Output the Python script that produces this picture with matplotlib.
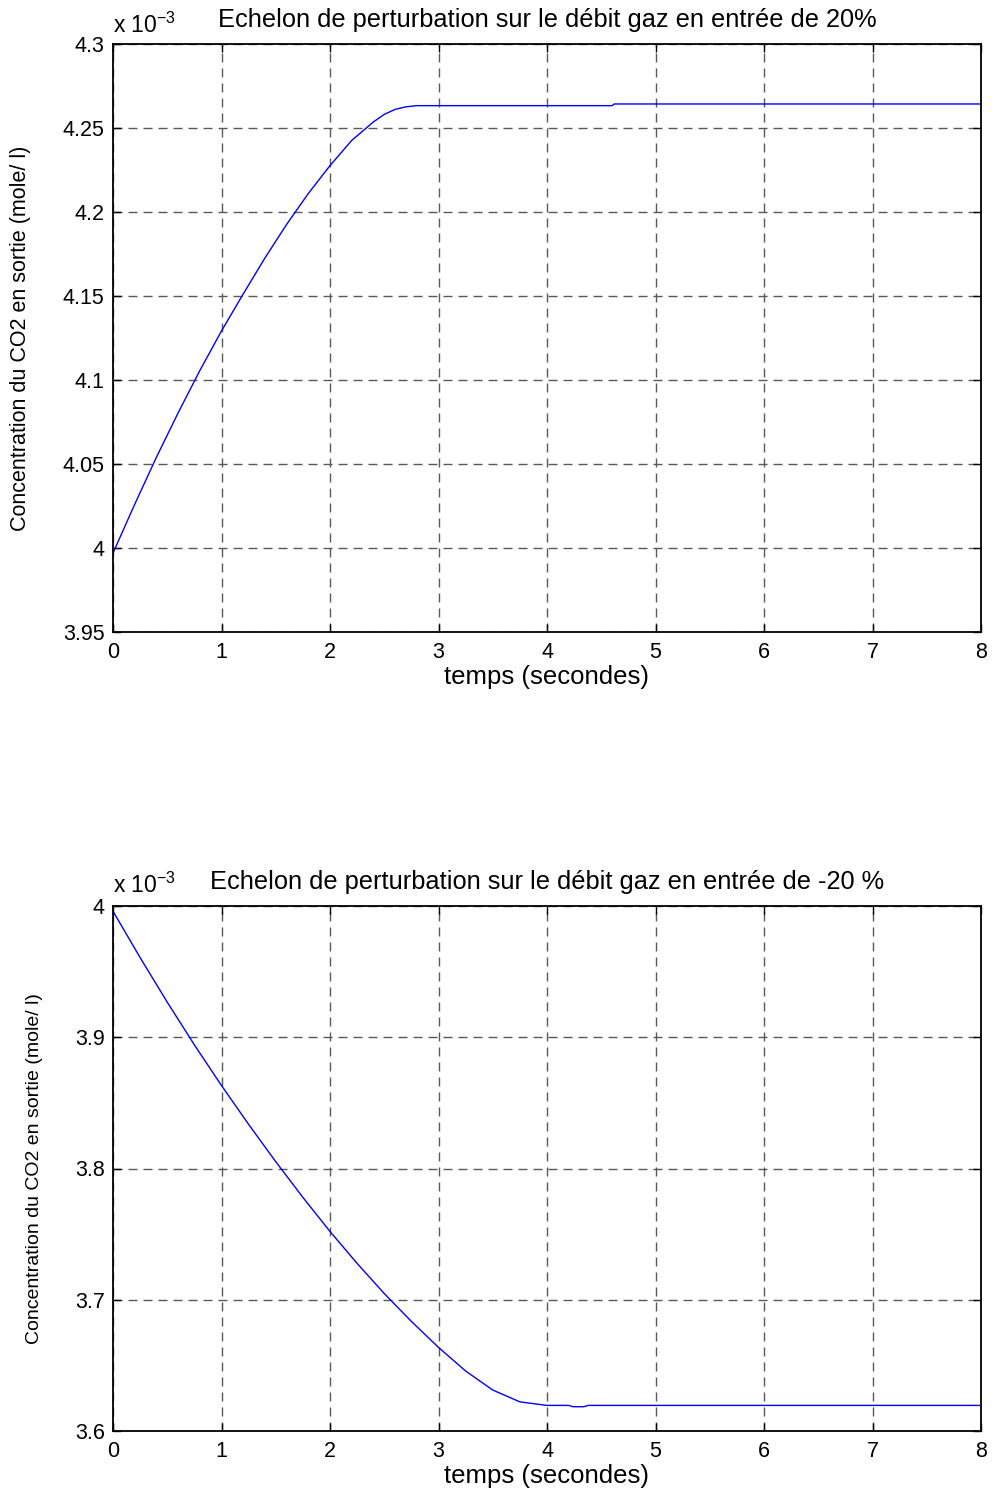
import matplotlib
matplotlib.use("Agg")
import matplotlib.pyplot as plt
import matplotlib.transforms as mtransforms
from matplotlib.ticker import FuncFormatter

plt.rcParams["font.family"] = ["Liberation Sans", "DejaVu Sans"]
plt.rcParams["mathtext.fontset"] = "custom"
plt.rcParams["mathtext.rm"] = "Liberation Sans"

# Step +20 % on gas inlet flow (concentration in 1e-3 mole/l)
t_up = [0, 0.2, 0.4, 0.6, 0.8, 1.0, 1.2, 1.4, 1.6, 1.8, 2.0, 2.2, 2.4, 2.5, 2.6, 2.7, 2.8,
        4.6, 4.62, 8.0]
c_up = [3.997, 4.026, 4.054, 4.0804, 4.1056, 4.1292, 4.1512, 4.1726, 4.1926, 4.211, 4.2276,
        4.2426, 4.2536, 4.2581, 4.2611, 4.2626, 4.2633, 4.2633, 4.2643, 4.2643]

# Step -20 % on gas inlet flow
t_down = [0, 0.25, 0.5, 0.75, 1.0, 1.25, 1.5, 1.75, 2.0, 2.25, 2.5, 2.75, 3.0, 3.25, 3.5,
          3.75, 4.0, 4.2, 4.24, 4.34, 4.38, 8.0]
c_down = [3.996, 3.9607, 3.9267, 3.8942, 3.8632, 3.8336, 3.8052, 3.778, 3.752, 3.7277, 3.7047,
          3.6835, 3.6637, 3.6457, 3.6312, 3.6222, 3.6195, 3.6195, 3.6185, 3.6185, 3.6195, 3.6195]

up_yticks = [3.95, 4.0, 4.05, 4.1, 4.15, 4.2, 4.25, 4.3]
down_yticks = [3.6, 3.7, 3.8, 3.9, 4.0]
xticks = list(range(0, 9))

YLABEL = "Concentration du CO2 en sortie (mole/ l)"
XLABEL = "temps (secondes)"


def style_axes(ax, yticks, title, ylabel_size, ylabel_x, offset_px):
    ax.set_xlim(0, 8)
    ax.set_ylim(yticks[0] * 1e-3, yticks[-1] * 1e-3)
    ax.set_xticks(xticks)
    ax.set_yticks([v * 1e-3 for v in yticks])
    ax.yaxis.set_major_formatter(FuncFormatter(lambda v, p: f"{v * 1e3:g}"))
    ax.tick_params(direction="in", length=6, width=1, labelsize=15.5, top=True, right=True)
    ax.tick_params(axis="x", pad=7)
    ax.tick_params(axis="y", pad=6)
    ax.grid(True, color="0.35", linestyle=(0, (6.5, 4.3)), linewidth=1)
    for s in ax.spines.values():
        s.set_linewidth(1.3)
    ax.set_xlabel(XLABEL, fontsize=18.5, labelpad=2)
    ax.set_ylabel(YLABEL, fontsize=ylabel_size)
    ax.yaxis.set_label_coords(ylabel_x, 0.5)
    ax.set_title(title, fontsize=18.3, pad=12)
    trans = mtransforms.offset_copy(ax.transAxes, fig=ax.figure, x=0, y=offset_px, units="dots")
    ax.text(0, 1, r"x 10$^{-3}$", transform=trans, fontsize=16.5, ha="left", va="baseline")


W, H = 992, 1490
fig = plt.figure(figsize=(W / 100, H / 100), dpi=100)

ax1 = fig.add_axes([113 / W, 1 - 632 / H, 868 / W, 588 / H])
ax1.plot(t_up, [c * 1e-3 for c in c_up], color="#0000ff", lw=1)
style_axes(ax1, up_yticks, "Echelon de perturbation sur le débit gaz en entrée de 20%",
           15.5, (31 - 113) / 868, 11)

ax2 = fig.add_axes([113 / W, 1 - 1431 / H, 868 / W, 525 / H])
ax2.plot(t_down, [c * 1e-3 for c in c_down], color="#0000ff", lw=1)
style_axes(ax2, down_yticks, "Echelon de perturbation sur le débit gaz en entrée de -20 %",
           14, (43 - 113) / 868, 13)

fig.savefig("out.png", dpi=100)
